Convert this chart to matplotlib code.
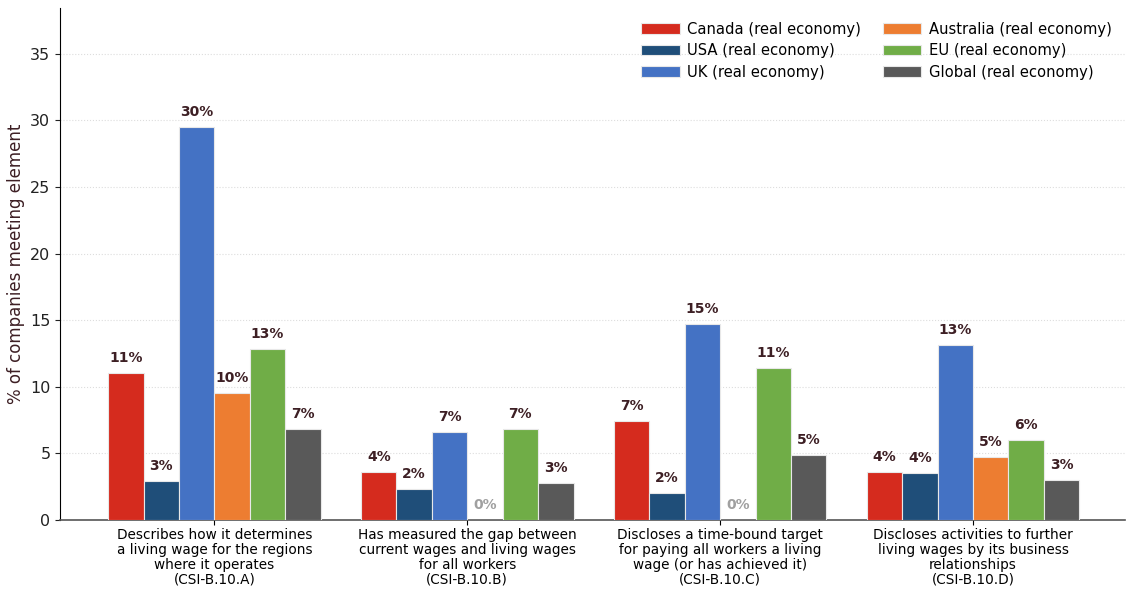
import numpy as np
import matplotlib.pyplot as plt

categories = [
    "Describes how it determines\na living wage for the regions\nwhere it operates\n(CSI-B.10.A)",
    "Has measured the gap between\ncurrent wages and living wages\nfor all workers\n(CSI-B.10.B)",
    "Discloses a time-bound target\nfor paying all workers a living\nwage (or has achieved it)\n(CSI-B.10.C)",
    "Discloses activities to further\nliving wages by its business\nrelationships\n(CSI-B.10.D)",
]
series_names = [
    "Canada (real economy)",
    "USA (real economy)",
    "UK (real economy)",
    "Australia (real economy)",
    "EU (real economy)",
    "Global (real economy)",
]
canada = [11.0, 3.6, 7.4, 3.6]
usa = [2.9, 2.3, 2.0, 3.5]
uk = [29.5, 6.6, 14.7, 13.1]
australia = [9.5, 0.0, 0.0, 4.7]
eu = [12.8, 6.8, 11.4, 6.0]
global_ = [6.8, 2.8, 4.9, 3.0]
series = [canada, usa, uk, australia, eu, global_]
colors = ["#d52b1e", "#1f4e79", "#4472c4", "#ed7d31", "#70ad47", "#595959"]

label_color = "#3d1f24"

fig, ax = plt.subplots(figsize=(11.35, 5.93), dpi=100)
fig.subplots_adjust(left=0.053, right=0.991, bottom=0.123, top=0.986)

x = np.arange(len(categories))
width = 0.14
for i, (name, vals, col) in enumerate(zip(series_names, series, colors)):
    pos = x + (i - 2.5) * width
    bars = ax.bar(pos, vals, width, color=col, edgecolor="#e8e8e8", linewidth=0.8,
                  label=name, zorder=3)
    for b, v in zip(bars, vals):
        if v == 0:
            ax.text(b.get_x() + b.get_width() / 2, 0.6, "0%", ha="center", va="bottom",
                    fontsize=10, fontweight="bold", color="#a0a0a0", zorder=4)
        else:
            ax.text(b.get_x() + b.get_width() / 2, v + 0.6, f"{v:.0f}%", ha="center",
                    va="bottom", fontsize=10, fontweight="bold", color=label_color, zorder=4)

ax.set_xticks(x)
ax.set_xticklabels(categories, fontsize=9.8, linespacing=1.1)
ax.tick_params(axis="x", pad=2)
ax.set_xlim(-0.61, 3.6)
ax.set_ylim(0, 38.4)
ax.set_yticks(np.arange(0, 36, 5))
ax.tick_params(axis="y", labelsize=11.5, colors="#222222")
ax.set_ylabel("% of companies meeting element", fontsize=12, color=label_color, labelpad=4)

ax.yaxis.grid(True, linestyle=":", color="#dddddd", linewidth=0.8, zorder=0)
ax.spines["top"].set_visible(False)
ax.spines["right"].set_visible(False)
ax.spines["bottom"].set_color("#555555")
ax.spines["bottom"].set_linewidth(1.2)

ax.legend(ncol=2, loc="upper right", frameon=False, fontsize=10.6,
          handlelength=2.6, handleheight=0.7, handletextpad=0.5, columnspacing=1.5,
          labelspacing=0.45, bbox_to_anchor=(1.0, 1.0))

plt.savefig("out.png", dpi=100)
